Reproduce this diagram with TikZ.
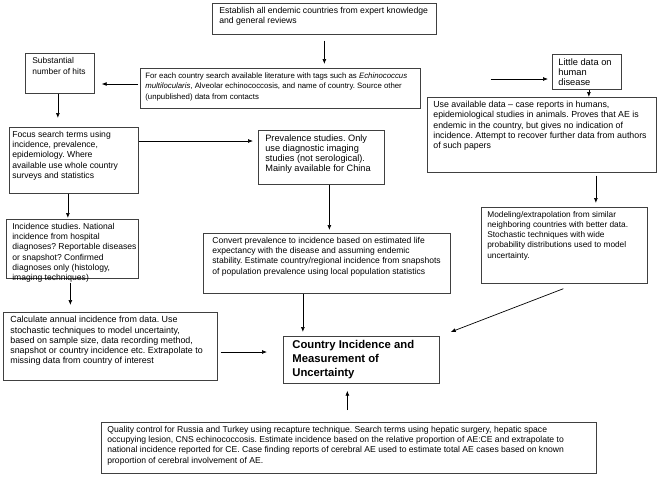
\documentclass[tikz,border=0pt]{standalone}
\usepackage{fontspec}
\setmainfont{Liberation Sans}
\usetikzlibrary{arrows.meta,calc}
\newcommand{\boxtext}[4][5pt]{\parbox[t][#3][t]{#2}{\raggedright\frenchspacing\leftskip=#1\relax #4}}
\begin{document}
\begin{tikzpicture}
[x=1pt,y=-1pt,
  boxfont/.style={font=\fontsize{#1}{10.2}\selectfont},%
  flowbox/.style={shape=rectangle,draw=black!75,line width=0.7pt,anchor=north west,
    inner ysep=4pt,inner xsep=1pt,boxfont=8.6},%
  resultbox/.style={flowbox,font=\fontsize{11.3}{14}\selectfont\bfseries},%
  flowline/.style={-{Latex[length=5pt,width=4pt]},line width=0.7pt}]
\useasboundingbox (0,0) rectangle (660,477);
%% boxes
\node (est) at (212,3) [flowbox,boxfont=8.65]
  {\boxtext[6pt]{222pt}{23pt}{Establish all endemic countries from expert knowledge\\and general reviews}};
\node (search) at (140,68) [flowbox,font=\fontsize{7.8}{10.8}\selectfont]
  {\boxtext[4pt]{278pt}{32pt}{For each country search available literature with tags such as \textit{Echinococcus}\\\textit{multilocularis}, Alveolar echinococcosis, and name of country. Source other\\(unpublished) data from contacts}};
\node (hits) at (25,53) [flowbox,font=\fontsize{8.4}{11.5}\selectfont]
  {\boxtext[6pt]{67pt}{32pt}{Substantial\\number of hits}};
\node (little) at (552,54) [flowbox,boxfont=9.3]
  {\boxtext{67pt}{27pt}{Little data on\\human\\disease}};
\node (useavail) at (427,97) [flowbox,boxfont=8.8]
  {\boxtext{227pt}{67pt}{Use available data -- case reports in humans,\\epidemiological studies in animals. Proves that AE is\\endemic in the country, but gives no indication of\\incidence. Attempt to recover further data from authors\\of such papers}};
\node (focus) at (9,127) [flowbox]
  {\boxtext[2pt]{127pt}{58pt}{Focus search terms using\\incidence, prevalence,\\epidemiology. Where\\available use whole country\\surveys and statistics}};
\node (prev) at (258,130) [flowbox,boxfont=9.2]
  {\boxtext[6pt]{124pt}{46pt}{Prevalence studies. Only\\use diagnostic imaging\\studies (not serological).\\Mainly available for China}};
\node (model) at (481,207) [flowbox,boxfont=8.3]
  {\boxtext{164pt}{68pt}{Modeling/extrapolation from similar\\neighboring countries with better data.\\Stochastic techniques with wide\\probability distributions used to model\\uncertainty.}};
\node (incid) at (6,219) [flowbox,boxfont=8.55]
  {\boxtext{130pt}{51pt}{Incidence studies. National\\incidence from hospital\\diagnoses? Reportable diseases\\or snapshot? Confirmed\\diagnoses only (histology,\\imaging techniques)}};
\node (convert) at (203,233) [flowbox,boxfont=8.55]
  {\boxtext[8pt]{245pt}{52pt}{Convert prevalence to incidence based on estimated life\\expectancy with the disease and assuming endemic\\stability. Estimate country/regional incidence from snapshots\\of population prevalence using local population statistics}};
\node (calc) at (3,312) [flowbox,boxfont=8.9]
  {\boxtext[6pt]{212pt}{60pt}{Calculate annual incidence from data. Use\\stochastic techniques to model uncertainty,\\based on sample size, data recording method,\\snapshot or country incidence etc. Extrapolate to\\missing data from country of interest}};
\node (result) at (283,336) [resultbox]
  {\boxtext[8pt]{154pt}{39pt}{Country Incidence and\\Measurement of\\Uncertainty}};
\node (quality) at (101,422) [flowbox]
  {\boxtext{493pt}{43pt}{Quality control for Russia and Turkey using recapture technique. Search terms using hepatic surgery, hepatic space\\occupying lesion, CNS echinococcosis. Estimate incidence based on the relative proportion of AE:CE and extrapolate to\\national incidence reported for CE. Case finding reports of cerebral AE used to estimate total AE cases based on known\\proportion of cerebral involvement of AE.}};
%% arrows
\draw[flowline,shorten <=6pt,shorten >=4pt] (est.south) -- (est.south |- search.north);
\draw[flowline,shorten <=2pt,shorten >=7pt] ([yshift=-16pt]search.north west) -- ([yshift=-16pt]search.north west -| hits.east);
\draw[flowline,shorten <=70pt,shorten >=4pt] ([yshift=-11pt]search.north east) -- ([yshift=-11pt]search.north east -| little.west);
\draw[flowline,shorten >=9pt] ([xshift=-2pt]hits.south) -- ([xshift=-2pt]hits.south |- focus.north);
\draw[flowline,shorten >=5pt] ([yshift=-14pt]focus.north east) -- ([yshift=-14pt]focus.north east -| prev.west);
\draw[flowline] ([xshift=2pt]little.south) -- ([xshift=2pt]little.south |- useavail.north);
\draw[flowline,shorten <=3pt,shorten >=4pt] ([xshift=54pt]useavail.south) -- ([xshift=54pt]useavail.south |- model.north);
\draw[flowline,shorten >=1pt] ([xshift=-6pt]focus.south) -- ([xshift=-6pt]focus.south |- incid.north);
\draw[flowline,shorten >=3pt] ([xshift=8pt]prev.south) -- ([xshift=8pt]prev.south |- convert.north);
\draw[flowline,shorten <=4pt,shorten >=7pt] ([xshift=-2pt]incid.south) -- ([xshift=-2pt]incid.south |- calc.north);
\draw[flowline,shorten <=3pt,shorten >=16pt] ([yshift=-40pt]calc.north east) -- ([yshift=-40pt]calc.north east -| result.west);
\draw[flowline,shorten >=4pt] ([xshift=-24pt]convert.south) -- ([xshift=-24pt]convert.south |- result.north);
\draw[flowline] ($(model.south)+(-1,5)$) -- ($(result.north east)+(11,-4)$);
\draw[flowline,shorten <=12pt,shorten >=7pt] ([xshift=-14pt]result.south |- quality.north) -- ([xshift=-14pt]result.south);
\end{tikzpicture}
\end{document}
